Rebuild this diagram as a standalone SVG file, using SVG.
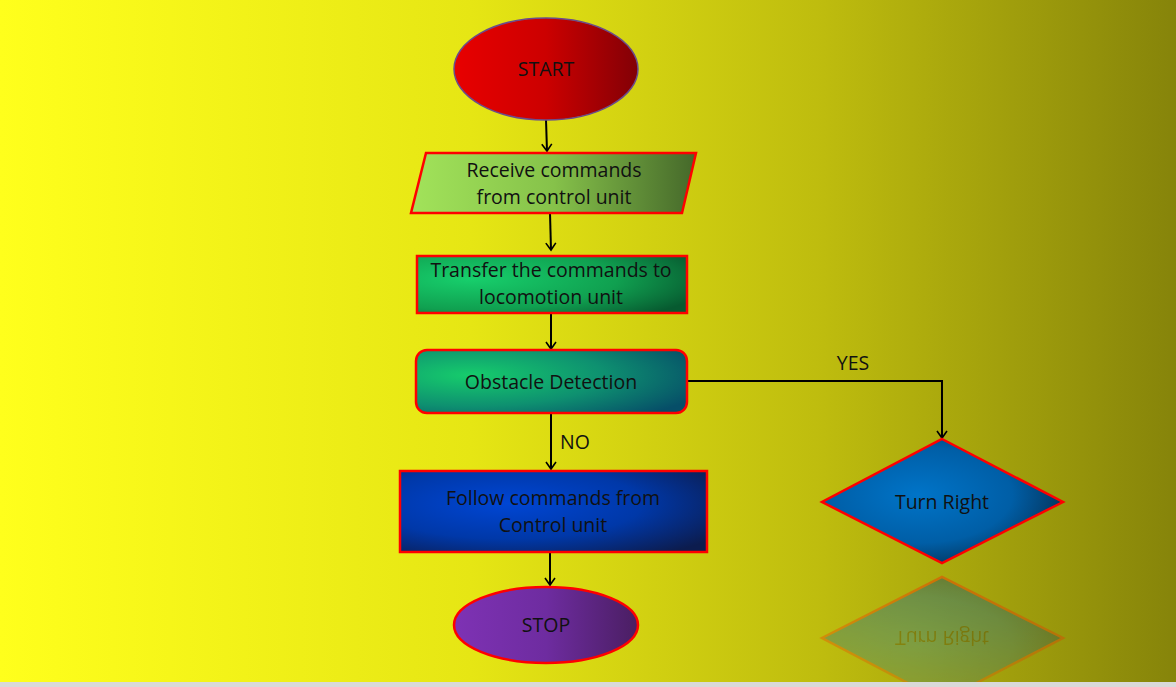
<svg xmlns="http://www.w3.org/2000/svg" width="1176" height="687" viewBox="0 0 1176 687">
<defs>
<linearGradient id="bg" x1="0" y1="0" x2="1" y2="0">
<stop offset="0" stop-color="#FFFF1C"/>
<stop offset="0.4" stop-color="#E6E614"/>
<stop offset="0.7" stop-color="#BEBC0E"/>
<stop offset="1" stop-color="#86840A"/>
</linearGradient>
<linearGradient id="gStart" x1="0" y1="0" x2="1" y2="0">
<stop offset="0" stop-color="#E80000"/>
<stop offset="0.5" stop-color="#CC0000"/>
<stop offset="1" stop-color="#820006"/>
</linearGradient>
<linearGradient id="gRecv" x1="0" y1="0" x2="1" y2="0">
<stop offset="0" stop-color="#A2E35A"/>
<stop offset="0.5" stop-color="#86C24A"/>
<stop offset="1" stop-color="#45682A"/>
</linearGradient>
<radialGradient id="gTrans" cx="0.2" cy="0.4" r="0.9">
<stop offset="0" stop-color="#17CF6C"/>
<stop offset="0.6" stop-color="#10A050"/>
<stop offset="1" stop-color="#075A30"/>
</radialGradient>
<radialGradient id="gObst" cx="0.2" cy="0.4" r="0.9">
<stop offset="0" stop-color="#16CC6C"/>
<stop offset="0.55" stop-color="#0E9070"/>
<stop offset="1" stop-color="#064E68"/>
</radialGradient>
<radialGradient id="gFollow" cx="0.35" cy="0.4" r="0.8">
<stop offset="0" stop-color="#0046D4"/>
<stop offset="0.55" stop-color="#0038A8"/>
<stop offset="1" stop-color="#0C1C4E"/>
</radialGradient>
<linearGradient id="gStop" x1="0" y1="0" x2="1" y2="0">
<stop offset="0" stop-color="#7E32B4"/>
<stop offset="0.5" stop-color="#6E2CA0"/>
<stop offset="1" stop-color="#4A1E62"/>
</linearGradient>
<radialGradient id="gDia" cx="0.4" cy="0.45" r="0.65">
<stop offset="0" stop-color="#0074C8"/>
<stop offset="0.6" stop-color="#005EA6"/>
<stop offset="1" stop-color="#052E50"/>
</radialGradient>
<linearGradient id="fade" x1="0" y1="577" x2="0" y2="690" gradientUnits="userSpaceOnUse">
<stop offset="0" stop-color="#fff" stop-opacity="0.4"/>
<stop offset="1" stop-color="#fff" stop-opacity="0.2"/>
</linearGradient>
<mask id="refMask" maskUnits="userSpaceOnUse" x="0" y="560" width="1176" height="130">
<rect x="0" y="560" width="1176" height="130" fill="url(#fade)"/>
</mask>
<marker id="arr" markerWidth="12" markerHeight="12" refX="10" refY="6" orient="auto" markerUnits="userSpaceOnUse" viewBox="0 0 12 12">
<path d="M3,1 L10,6 L3,11" fill="none" stroke="#000" stroke-width="1.6"/>
</marker>
<style>
text{font-family:"Open Sans","Liberation Sans",sans-serif;font-size:19.5px;fill:#111;text-anchor:middle}
.con{fill:none;stroke:#000;stroke-width:2}
.ol{stroke:#FF0000;stroke-width:2.5}
</style>
</defs>
<rect x="0" y="0" width="1176" height="687" fill="url(#bg)"/>

<g id="connectors">
<path class="con" d="M546,120 L547,151" marker-end="url(#arr)"/>
<path class="con" d="M550,213 L551,250" marker-end="url(#arr)"/>
<path class="con" d="M551,313 L551,349" marker-end="url(#arr)"/>
<path class="con" d="M551,413 L551,469" marker-end="url(#arr)"/>
<path class="con" d="M550,552 L550,585" marker-end="url(#arr)"/>
<path class="con" d="M687,381 L942,381 L942,438" marker-end="url(#arr)"/>
<text x="575" y="449">NO</text>
<text x="853" y="370">YES</text>
</g>

<g id="start">
<ellipse cx="546" cy="69" rx="92" ry="51" fill="url(#gStart)" stroke="#6A4C8C" stroke-width="1.5"/>
<text x="546" y="76">START</text>
</g>

<g id="receive">
<polygon points="426,153 696,153 682,213 411,213" fill="url(#gRecv)" class="ol"/>
<text x="554" y="177">Receive commands</text>
<text x="554" y="204">from control unit</text>
</g>

<g id="transfer">
<rect x="417" y="256" width="270" height="57" fill="url(#gTrans)" class="ol"/>
<text x="551" y="277">Transfer the commands to</text>
<text x="551" y="304">locomotion unit</text>
</g>

<g id="obstacle">
<rect x="416" y="350" width="271" height="63" rx="11" fill="url(#gObst)" class="ol"/>
<text x="551" y="389">Obstacle Detection</text>
</g>

<g id="follow">
<rect x="400" y="471" width="307" height="81" fill="url(#gFollow)" class="ol"/>
<text x="553" y="505">Follow commands from</text>
<text x="553" y="532">Control unit</text>
</g>

<g id="stop">
<ellipse cx="546" cy="625" rx="92" ry="38" fill="url(#gStop)" class="ol" stroke-width="2"/>
<text x="546" y="632">STOP</text>
</g>

<g id="turnright">
<polygon points="942,439 1063,502 942,563 822,502" fill="url(#gDia)" class="ol"/>
<text x="942" y="509">Turn Right</text>
</g>

<g id="reflection" mask="url(#refMask)">
<g transform="translate(0,1140) scale(1,-1)">
<polygon points="942,439 1063,502 942,563 822,502" fill="url(#gDia)" stroke="#FF2000" stroke-width="2.5"/>
<text x="942" y="509">Turn Right</text>
</g>
</g>
<rect x="0" y="682" width="1176" height="5" fill="#D9D9D9"/>
</svg>
